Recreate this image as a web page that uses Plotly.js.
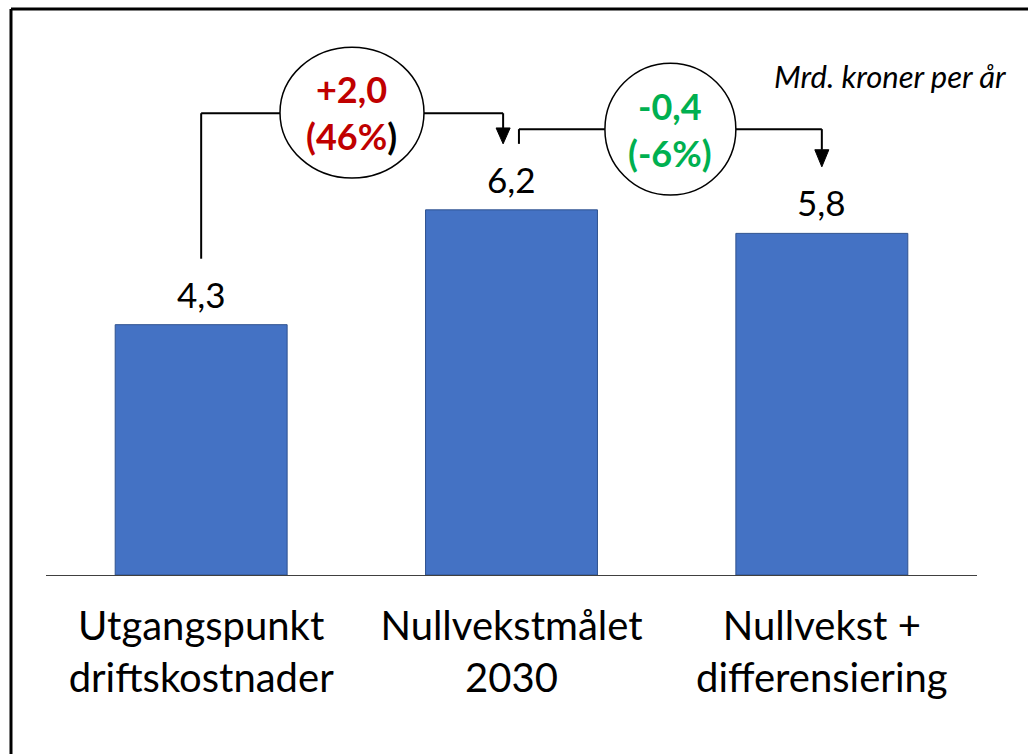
<!DOCTYPE html>
<html>
<head>
<meta charset="utf-8">
<script src="https://cdn.plot.ly/plotly-3.0.1.min.js"></script>
<style>html,body{margin:0;padding:0;background:#fff;}#chart{width:1028px;height:754px;}</style>
</head>
<body>
<div id="chart"></div>
<script>
// ---- data ----
const categories = ["Utgangspunkt<br>driftskostnader", "Nullvekstmålet<br>2030", "Nullvekst +<br>differensiering"];
const values = [4.25, 6.2, 5.8];
const valueLabels = ["4,3", "6,2", "5,8"];
const changeLabels = ["+2,0<br>(46%<span style='color:#000000'>)</span>", "-0,4<br>(-6%)"];
const changeColors = ["#C00000", "#00B050"];
const unitLabel = "Mrd. kroner per år";

const FONT = "Lato, 'Open Sans', sans-serif";
const P = i => (i + 0.5) / 3;   // category index -> paper x

const bar = {
  type: "bar",
  x: categories,
  y: values,
  width: 0.554,
  marker: {color: "#4472C4", line: {color: "#2F528F", width: 1}},
  hoverinfo: "skip"
};

const annotations = [];
values.forEach((v, i) => {
  annotations.push({
    xref: "paper", yref: "y", x: P(i), y: v, yshift: 8,
    xanchor: "center", yanchor: "bottom", showarrow: false,
    text: valueLabels[i], font: {family: FONT, size: 35, color: "#000"}
  });
});

// connector geometry (category index units / data units)
const ell = [
  {x0: 0.254, x1: 0.718, y0: 6.74, y1: 8.96},
  {x0: 1.301, x1: 1.723, y0: 6.45, y1: 8.69}
];
ell.forEach((e, k) => {
  annotations.push({
    xref: "paper", yref: "y", x: P((e.x0 + e.x1) / 2), y: (e.y0 + e.y1) / 2,
    xanchor: "center", yanchor: "middle", showarrow: false,
    text: "<b>" + changeLabels[k] + "</b>",
    font: {family: FONT, size: 36, color: changeColors[k]}
  });
});

annotations.push({
  xref: "paper", yref: "y", x: 1.0344, y: 8.47, xanchor: "right", yanchor: "middle",
  showarrow: false, text: "<i>" + unitLabel + "</i>",
  font: {family: FONT, size: 31, color: "#000"}
});

const L = {color: "#000", width: 2};
function seg(xa, ya, xb, yb) {
  return {type: "line", xref: "paper", yref: "y", x0: P(xa), y0: ya, x1: P(xb), y1: yb, line: L, layer: "above"};
}
function head(x, ybase, ytip) {
  const hw = 0.0226 / 3;
  const px = P(x);
  return {type: "path", xref: "paper", yref: "y",
    path: `M ${px - hw} ${ybase} L ${px + hw} ${ybase} L ${px} ${ytip} Z`,
    fillcolor: "#000", line: {color: "#000", width: 1}, layer: "above"};
}
const yc1 = 7.84, yc2 = 7.57;
const shapes = [
  // connector 1
  seg(0, 5.37, 0, yc1),
  seg(0, yc1, ell[0].x0, yc1),
  seg(ell[0].x1, yc1, 0.973, yc1),
  seg(0.973, yc1, 0.973, 7.59),
  head(0.973, 7.59, 7.32),
  // connector 2
  seg(1.024, 7.32, 1.024, yc2),
  seg(1.024, yc2, ell[1].x0, yc2),
  seg(ell[1].x1, yc2, 2.0, yc2),
  seg(2.0, yc2, 2.0, 7.22),
  head(2.0, 7.22, 6.93),
];
ell.forEach(e => shapes.push({
  type: "circle", xref: "paper", yref: "y", x0: P(e.x0), x1: P(e.x1), y0: e.y0, y1: e.y1,
  fillcolor: "#fff", line: {color: "#000", width: 1.5}, layer: "above"
}));
// outer frame (left + top edges)
shapes.push({type: "line", xref: "paper", yref: "paper", x0: -0.0376, x1: -0.0376, y0: 1.0254, y1: -0.4, line: {color: "#000", width: 3}});
shapes.push({type: "line", xref: "paper", yref: "paper", x0: -0.0376, x1: 1.1, y0: 1.0254, y1: 1.0254, line: {color: "#000", width: 3}});

const layout = {
  width: 1028, height: 754, autosize: false,
  margin: {l: 46, r: 51, t: 23, b: 179, pad: 0},
  paper_bgcolor: "#fff", plot_bgcolor: "#fff",
  showlegend: false,
  bargap: 0.446,
  font: {family: FONT, color: "#000"},
  xaxis: {
    type: "category", showline: true, linecolor: "#404040", linewidth: 1,
    ticks: "", showgrid: false, zeroline: false, fixedrange: true,
    tickfont: {family: FONT, size: 40, color: "#000"}, ticklabelstandoff: 16
  },
  yaxis: {range: [0, 9.372], visible: false, showgrid: false, zeroline: false, fixedrange: true},
  annotations: annotations,
  shapes: shapes
};

Plotly.newPlot("chart", [bar], layout, {displayModeBar: false, staticPlot: true});
</script>
</body>
</html>
